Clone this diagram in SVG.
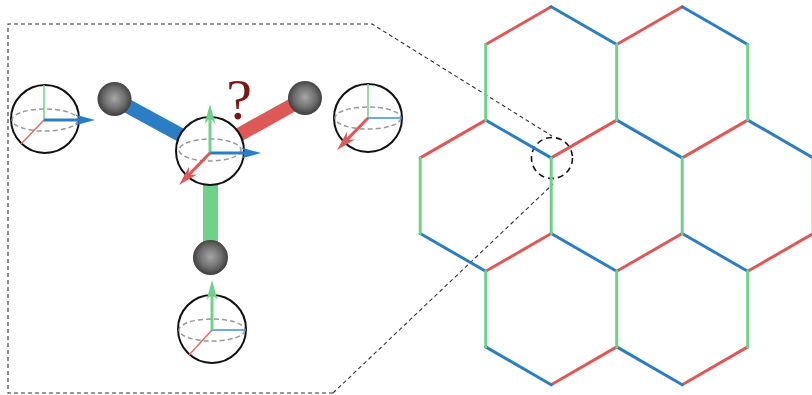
<svg xmlns="http://www.w3.org/2000/svg" width="812" height="395" viewBox="0 0 812 395">
  <defs>
    <style>
      .frame { fill: none; stroke: #333; stroke-width: 1.1; stroke-dasharray: 4 3; }
      .lat { fill: none; stroke-width: 3; stroke-linecap: round; }
      .red { stroke: #df5858; }
      .blue { stroke: #2b7ec4; }
      .green { stroke: #6dd388; }
      .sphere { fill: #fff; stroke: #111; stroke-width: 2; }
      .equator { fill: none; stroke: #999; stroke-width: 1.5; stroke-dasharray: 5 3; }
      .axis { fill: none; stroke-width: 1.5; }
      .ax-r { stroke: #e66a6a; }
      .ax-b { stroke: #3f8fd6; }
      .ax-g { stroke: #6dd388; }
      .spin { fill: none; stroke-width: 3; }
      .bond { stroke-width: 14; stroke-linecap: butt; }
      .ball { fill: url(#ballShade); }
    </style>
    <radialGradient id="ballShade" cx="50%" cy="48%" r="55%">
      <stop offset="0" stop-color="#a6a6a6"/>
      <stop offset="0.55" stop-color="#707070"/>
      <stop offset="1" stop-color="#353535"/>
    </radialGradient>
    <!-- stealth heads: notch at the line end, tip 14 ahead, barbs 6 behind -->
    <marker id="headB" viewBox="-7 -6 22 12" refX="0" refY="0" markerWidth="22" markerHeight="12" orient="auto" markerUnits="userSpaceOnUse">
      <path d="M14,0 L-6,-5.5 L0,0 L-6,5.5 Z" fill="#2b7ec4"/>
    </marker>
    <marker id="headR" viewBox="-7 -6 22 12" refX="0" refY="0" markerWidth="22" markerHeight="12" orient="auto" markerUnits="userSpaceOnUse">
      <path d="M14,0 L-6,-5.5 L0,0 L-6,5.5 Z" fill="#df5858"/>
    </marker>
    <marker id="headG" viewBox="-7 -6 22 12" refX="0" refY="0" markerWidth="22" markerHeight="12" orient="auto" markerUnits="userSpaceOnUse">
      <path d="M14,0 L-6,-5.5 L0,0 L-6,5.5 Z" fill="#6dd388"/>
    </marker>
  </defs>

  <rect width="812" height="395" fill="#fff"/>

  <!-- zoom frame and guide lines to the circled site -->
  <g id="connectors">
    <path class="frame" d="M333,393 H8 V24 H372 L552,136"/>
    <path class="frame" d="M333,393 L553,184"/>
    <circle cx="552" cy="158" r="20.5" fill="none" stroke="#111" stroke-width="1.6" stroke-dasharray="6 4"/>
  </g>

  <!-- honeycomb lattice: bonds coloured by orientation -->
  <g id="lattice">
    <path class="lat red" d="M485.7,44.5 L551.2,6.7 M551.2,157.9 L616.7,120.1 M616.7,44.5 L682.2,6.7 M682.2,157.9 L747.7,120.1 M420.2,157.9 L485.7,120.1 M485.7,271.3 L551.2,233.5 M616.7,271.3 L682.2,233.5 M747.7,271.3 L813.2,233.5 M551.2,384.7 L616.7,346.9 M682.2,384.7 L747.7,346.9"/>
    <path class="lat blue" d="M551.2,6.7 L616.7,44.5 M485.7,120.1 L551.2,157.9 M682.2,6.7 L747.7,44.5 M616.7,120.1 L682.2,157.9 M420.2,233.5 L485.7,271.3 M551.2,233.5 L616.7,271.3 M747.7,120.1 L813.2,157.9 M682.2,233.5 L747.7,271.3 M485.7,346.9 L551.2,384.7 M616.7,346.9 L682.2,384.7"/>
    <path class="lat green" d="M485.7,44.5 V120.1 M616.7,44.5 V120.1 M747.7,44.5 V120.1 M420.2,157.9 V233.5 M551.2,157.9 V233.5 M682.2,157.9 V233.5 M813.2,157.9 V233.5 M485.7,271.3 V346.9 M616.7,271.3 V346.9 M747.7,271.3 V346.9"/>
  </g>

  <!-- bonds of the central site -->
  <g id="bonds">
    <line class="bond blue" x1="114.5" y1="99" x2="210" y2="151"/>
    <line class="bond red" x1="305" y1="98" x2="210" y2="151"/>
    <line class="bond green" x1="210.5" y1="257" x2="210.5" y2="151" style="stroke-width:15"/>
  </g>

  <g id="ball-left"><circle class="ball" cx="114.5" cy="99" r="17"/></g>
  <g id="ball-right"><circle class="ball" cx="305" cy="98" r="17"/></g>
  <g id="ball-bottom"><circle class="ball" cx="210.5" cy="257.5" r="17.5"/></g>

  <!-- central spin -->
  <g id="spin-center">
    <circle class="sphere" cx="210" cy="151" r="34"/>
    <ellipse class="equator" cx="210" cy="150" rx="31" ry="11"/>
    <line class="spin" stroke="#6dd388" x1="210" y1="153" x2="210" y2="118" marker-end="url(#headG)"/>
    <line class="spin" stroke="#2b7ec4" x1="210" y1="153" x2="247" y2="153" marker-end="url(#headB)"/>
    <line class="spin" stroke="#df5858" x1="210" y1="153" x2="188.8" y2="174.9" marker-end="url(#headR)"/>
  </g>

  <g id="question">
    <text x="239" y="119" font-family="Liberation Serif, serif" font-size="58" fill="#7a1818" text-anchor="middle">?</text>
  </g>

  <!-- spin aligned along the blue axis -->
  <g id="spin-left">
    <circle class="sphere" cx="45" cy="119" r="34"/>
    <ellipse class="equator" cx="45" cy="120" rx="33" ry="11"/>
    <line class="axis ax-g" x1="44" y1="120" x2="44" y2="85"/>
    <line class="axis ax-r" x1="44" y1="120" x2="21" y2="144"/>
    <line class="spin" stroke="#2b7ec4" x1="44" y1="120" x2="81" y2="120" marker-end="url(#headB)"/>
  </g>

  <!-- spin aligned along the red axis -->
  <g id="spin-right">
    <circle class="sphere" cx="368" cy="118" r="34"/>
    <ellipse class="equator" cx="368" cy="118" rx="33" ry="11"/>
    <line class="axis ax-g" x1="368" y1="118" x2="368" y2="84"/>
    <line class="axis ax-b" x1="368" y1="118" x2="401" y2="118"/>
    <line class="spin" stroke="#df5858" x1="368" y1="118" x2="346.8" y2="139.9" marker-end="url(#headR)"/>
  </g>

  <!-- spin aligned along the green axis -->
  <g id="spin-bottom">
    <circle class="sphere" cx="212" cy="329" r="34"/>
    <ellipse class="equator" cx="212" cy="330" rx="33" ry="11"/>
    <line class="axis ax-b" x1="212" y1="330" x2="246" y2="330"/>
    <line class="axis ax-r" x1="212" y1="330" x2="189" y2="355"/>
    <line class="spin" stroke="#6dd388" x1="212" y1="330" x2="212" y2="294" marker-end="url(#headG)"/>
  </g>
</svg>
